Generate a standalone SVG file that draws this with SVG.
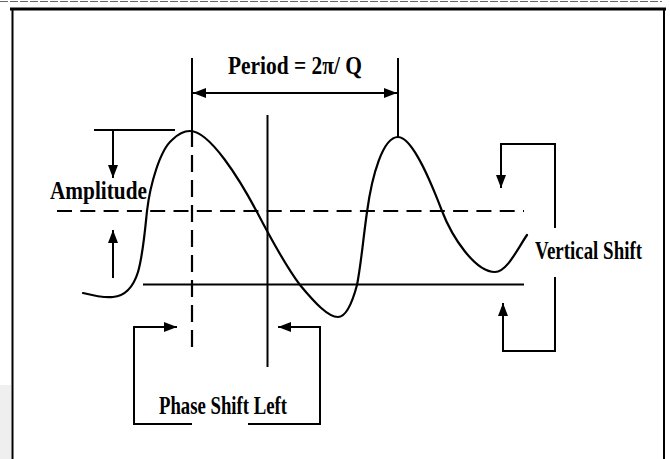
<svg xmlns="http://www.w3.org/2000/svg" width="670" height="459" viewBox="0 0 670 459">
<style>
.ln{stroke:#000;stroke-width:2;fill:none}
.curve{stroke:#000;stroke-width:2.2;fill:none;stroke-linecap:round}
.dash{stroke:#000;stroke-width:2.2;fill:none}
.lbl{font-family:"Liberation Serif","Times New Roman",serif;font-weight:bold;font-size:26px;fill:#000}
</style>
<defs>
<marker id="ah" viewBox="0 0 13 10" refX="13" refY="5" markerWidth="13" markerHeight="10" markerUnits="userSpaceOnUse" orient="auto">
<path d="M0,0 L13,5 L0,10 z" fill="#000"/>
</marker>
</defs>
<rect width="670" height="459" fill="#fff"/>
<rect x="0" y="385" width="11" height="74" fill="#efefef"/>
<g id="frame">
<line x1="0" y1="1.5" x2="662" y2="1.5" stroke="#666" stroke-width="1" stroke-dasharray="8 2"/>
<line x1="10" y1="9" x2="666" y2="9" stroke="#000" stroke-width="3"/>
<line x1="12.5" y1="9" x2="12.5" y2="459" stroke="#000" stroke-width="2"/>
<line x1="664" y1="9" x2="664" y2="459" stroke="#000" stroke-width="2"/>
</g>
<g id="wave">
<path class="curve" d="M83,293 C95,296 105,298 113,297 C125,296 133,288 138,272 C143,255 145,230 147,211 C150,185 160,150 172,140 C178,134 184,131 190,131 C210,131 240,180 257,212 C270,237 285,265 300,285 C315,303 328,317 338,317 C347,317 353,300 357,285 C361,265 363,240 367,212 C372,175 383,137 398,137 C413,137 432,185 442,211 C452,237 475,272 495,272 C507,272 518,248 527,235"/>
</g>
<g id="axes">
<line class="dash" x1="57" y1="211" x2="524" y2="211" stroke-dasharray="15 8.3"/>
<line class="ln" x1="143" y1="284.5" x2="524" y2="284.5"/>
<line class="dash" x1="192" y1="347" x2="192" y2="130" stroke-dasharray="17 8"/>
<line class="ln" x1="192" y1="58" x2="192" y2="131"/>
<line class="ln" x1="398" y1="58" x2="398" y2="137"/>
<line class="ln" x1="267.5" y1="115" x2="267.5" y2="367"/>
</g>
<g id="connectors">
<line class="ln" x1="295" y1="93" x2="193" y2="93" marker-end="url(#ah)"/>
<line class="ln" x1="295" y1="93" x2="397" y2="93" marker-end="url(#ah)"/>
<line class="ln" x1="94" y1="130" x2="175" y2="130"/>
<line class="ln" x1="113" y1="130" x2="113" y2="178" marker-end="url(#ah)"/>
<line class="ln" x1="113" y1="278" x2="113" y2="230" marker-end="url(#ah)"/>
<polyline class="ln" points="192,424 134,424 134,327 177,327" marker-end="url(#ah)"/>
<polyline class="ln" points="248,424 320,424 320,327 278,327" marker-end="url(#ah)"/>
<polyline class="ln" points="555,228 555,144 501,144 501,188" marker-end="url(#ah)"/>
<polyline class="ln" points="555,277 555,351 503,351 503,303" marker-end="url(#ah)"/>
</g>
<g id="label-period"><text class="lbl" x="228" y="74" textLength="134" lengthAdjust="spacingAndGlyphs">Period = 2π/ Q</text></g>
<g id="label-amplitude"><text class="lbl" x="50" y="199" textLength="97" lengthAdjust="spacingAndGlyphs">Amplitude</text></g>
<g id="label-vertical"><text class="lbl" x="535" y="259" textLength="107" lengthAdjust="spacingAndGlyphs">Vertical Shift</text></g>
<g id="label-phase"><text class="lbl" x="159" y="414" textLength="128" lengthAdjust="spacingAndGlyphs">Phase Shift Left</text></g>
</svg>
